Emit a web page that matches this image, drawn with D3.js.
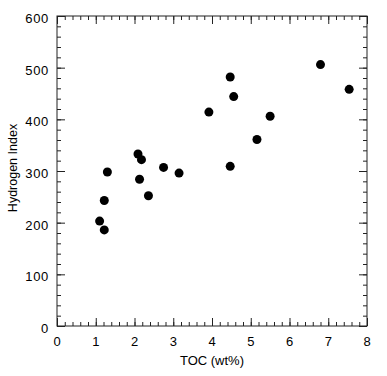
<!DOCTYPE html>
<html>
<head>
<meta charset="utf-8">
<script src="https://cdn.jsdelivr.net/npm/d3@7"></script>
<style>
  body { margin: 0; background: #fff; }
  text { font-family: "Liberation Sans", Arial, sans-serif; fill: #000; }
</style>
</head>
<body>
<div class="graphics"></div>
<script>
// TOC (wt%) vs Hydrogen Index
var toc = [1.10, 1.22, 1.22, 1.30, 2.09, 2.18, 2.13, 2.36, 2.75, 3.15, 3.92, 4.47, 4.56, 4.47, 5.16, 5.50, 6.80, 7.54]
var hi  = [203, 186, 243, 298, 333, 322, 284, 252, 307, 296, 414, 482, 444, 309, 361, 406, 506, 458]
var xTicks = [0, 1, 2, 3, 4, 5, 6, 7, 8]
var yTicks = [0, 100, 200, 300, 400, 500, 600]

var points = toc.map(function(d, i){ return {x: d, y: hi[i]}; })

var W = 387, H = 376
var m = {left: 57, right: 20, top: 16, bottom: 50}

var svg = d3.select('.graphics')
    .append('svg')
    .attr('width', W)
    .attr('height', H)

var x = d3.scaleLinear().domain([0, 8]).range([m.left, W - m.right])
var y = d3.scaleLinear().domain([0, 600]).range([H - m.bottom, m.top])

function minors(scale, step){
    var d = scale.domain(), out = []
    for (var v = d[0]; v <= d[1] + 1e-9; v += step) out.push(+v.toFixed(4))
    return out
}

var xMinor = minors(x, 0.2)
var yMinor = minors(y, 20)

function styleAxis(g){
    g.select('.domain').remove()
    g.selectAll('line').attr('stroke', '#222')
}

function tickText(sel){
    sel.style('font-size', '13px').style('letter-spacing', '0.7px')
}

// bottom axis (labels) + ticks pointing inward
svg.append('g')
    .attr('transform', 'translate(0,' + y(0) + ')')
    .call(d3.axisTop(x).tickValues(xMinor).tickSize(4).tickFormat(''))
    .call(styleAxis)
svg.append('g')
    .attr('transform', 'translate(0,' + y(0) + ')')
    .call(d3.axisTop(x).tickValues(xTicks).tickSize(8).tickFormat(''))
    .call(styleAxis)
svg.append('g')
    .attr('transform', 'translate(0,' + y(0) + ')')
    .call(d3.axisBottom(x).tickValues(xTicks).tickSize(0).tickPadding(11).tickFormat(d3.format('d')))
    .call(styleAxis)
    .selectAll('text').call(tickText)

// top axis
svg.append('g')
    .attr('transform', 'translate(0,' + y(600) + ')')
    .call(d3.axisBottom(x).tickValues(xMinor).tickSize(4).tickFormat(''))
    .call(styleAxis)
svg.append('g')
    .attr('transform', 'translate(0,' + y(600) + ')')
    .call(d3.axisBottom(x).tickValues(xTicks).tickSize(8).tickFormat(''))
    .call(styleAxis)

// left axis
svg.append('g')
    .attr('transform', 'translate(' + x(0) + ',0)')
    .call(d3.axisRight(y).tickValues(yMinor).tickSize(4).tickFormat(''))
    .call(styleAxis)
svg.append('g')
    .attr('transform', 'translate(' + x(0) + ',0)')
    .call(d3.axisRight(y).tickValues(yTicks).tickSize(8).tickFormat(''))
    .call(styleAxis)
svg.append('g')
    .attr('transform', 'translate(' + x(0) + ',0)')
    .call(d3.axisLeft(y).tickValues(yTicks).tickSize(0).tickPadding(8).tickFormat(d3.format('d')))
    .call(styleAxis)
    .selectAll('text').call(tickText).attr('dy', '0.5em')

// right axis
svg.append('g')
    .attr('transform', 'translate(' + x(8) + ',0)')
    .call(d3.axisLeft(y).tickValues(yMinor).tickSize(4).tickFormat(''))
    .call(styleAxis)
svg.append('g')
    .attr('transform', 'translate(' + x(8) + ',0)')
    .call(d3.axisLeft(y).tickValues(yTicks).tickSize(8).tickFormat(''))
    .call(styleAxis)

// frame
svg.append('rect')
    .attr('x', x(0)).attr('y', y(600))
    .attr('width', x(8) - x(0)).attr('height', y(0) - y(600))
    .attr('fill', 'none').attr('stroke', '#222').attr('stroke-width', 1)

// points
svg.selectAll('circle')
    .data(points)
    .enter()
    .append('circle')
    .attr('cx', function(d){ return x(d.x); })
    .attr('cy', function(d){ return y(d.y); })
    .attr('r', 4.5)
    .attr('fill', '#000')

// axis titles
svg.append('text')
    .attr('x', (x(0) + x(8)) / 2)
    .attr('y', 365)
    .attr('text-anchor', 'middle')
    .style('font-size', '13px')
    .text('TOC (wt%)')

svg.append('text')
    .attr('transform', 'translate(17,' + ((y(0) + y(600)) / 2 - 3) + ') rotate(-90)')
    .attr('text-anchor', 'middle')
    .style('font-size', '12.5px')
    .text('Hydrogen Index')
</script>
</body>
</html>
